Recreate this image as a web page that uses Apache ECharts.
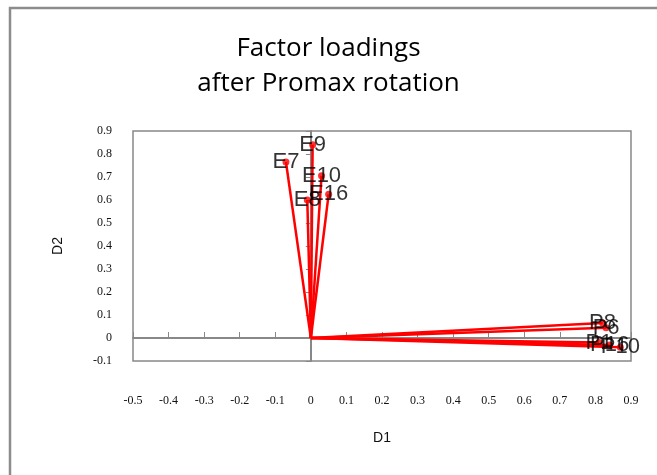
<!DOCTYPE html>
<html><head><meta charset="utf-8">
<script src="https://cdn.jsdelivr.net/npm/echarts@6/dist/echarts.min.js"></script>
<style>html,body{margin:0;padding:0;background:#fff}#c{width:657px;height:475px}</style>
</head><body><div id="c"></div>
<script>
const names = ['E9','E7','E10','E16','E8','P8','P6','P1','P16','P10'];
const d1 = [0.005,-0.07,0.03,0.05,-0.01,0.82,0.83,0.81,0.84,0.87];
const d2 = [0.84,0.765,0.705,0.625,0.60,0.065,0.045,-0.02,-0.03,-0.04];
const xTicks = {min:-0.5,max:0.9,step:0.1};
const yTicks = {min:-0.1,max:0.9,step:0.1};

const fmt = v => { const r = Math.round(v*10)/10; return r === 0 ? '0' : r.toFixed(1); };
const series = [];
names.forEach((n,i)=>{
  series.push({type:'line',data:[[0,0],[d1[i],d2[i]]],showSymbol:false,symbol:'none',
    lineStyle:{color:'#ff0000',width:2.5},silent:true,z:2});
});
series.push({type:'scatter',data:names.map((n,i)=>({name:n,value:[d1[i],d2[i]]})),
  symbol:'circle',symbolSize:7,itemStyle:{color:'#ff0000'},z:3,
  label:{show:true,position:'inside',formatter:p=>p.name,color:'#000',
    fontFamily:'Liberation Sans',fontSize:22}});

const chart = echarts.init(document.getElementById('c'),null,{renderer:'canvas'});
chart.setOption({
  animation:false,
  backgroundColor:'#fff',
  title:{text:'Factor loadings\nafter Promax rotation',left:'center',top:26,
    textStyle:{fontFamily:'Open Sans',fontSize:26,fontWeight:'normal',color:'#000',lineHeight:35}},
  graphic:[{type:'rect',shape:{x:10,y:8,width:720,height:520},
    style:{fill:'none',stroke:'#8c8c8c',lineWidth:2.5},silent:true}],
  grid:{left:133,top:131,right:26,bottom:114,show:true,borderColor:'#888',borderWidth:1.5,
    containLabel:false,outerBoundsMode:'none'},
  xAxis:{type:'value',min:xTicks.min,max:xTicks.max,interval:xTicks.step,
    axisLine:{onZero:true,lineStyle:{color:'#888',width:2}},
    axisTick:{inside:true,length:6,lineStyle:{color:'#888'}},
    splitLine:{show:false},
    axisLabel:{margin:34,formatter:fmt,color:'#111',fontFamily:'Liberation Serif',fontSize:12},
    name:'D1',nameLocation:'middle',nameGap:70,
    nameTextStyle:{fontFamily:'Liberation Sans',fontSize:14,color:'#111'}},
  yAxis:{type:'value',min:yTicks.min,max:yTicks.max,interval:yTicks.step,
    axisLine:{onZero:true,lineStyle:{color:'#888',width:2}},
    axisTick:{length:5,lineStyle:{color:'#888'}},
    splitLine:{show:false},
    axisLabel:{margin:21,formatter:fmt,color:'#111',fontFamily:'Liberation Serif',fontSize:12},
    name:'D2',nameLocation:'middle',nameGap:68,nameRotate:90,
    nameTextStyle:{fontFamily:'Liberation Sans',fontSize:14,color:'#111'}},
  series:series
});
</script></body></html>
